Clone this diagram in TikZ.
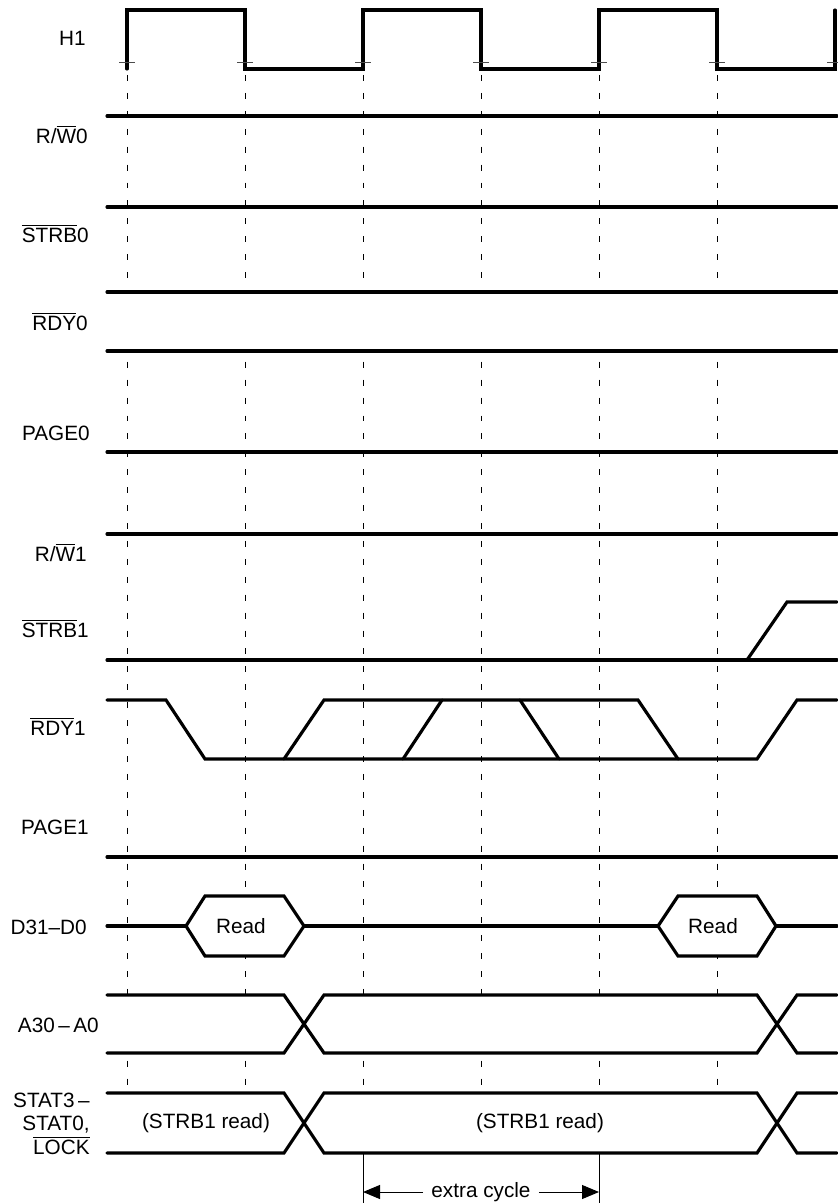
\documentclass[tikz,border=0pt]{standalone}
\usepackage{fontspec}
\setmainfont{Liberation Sans}
\usetikzlibrary{arrows.meta}
\newcommand{\ovl}[1]{$\overline{\mbox{#1}}$}

\begin{document}
\begin{tikzpicture}[x=0.02cm, y=-0.02cm,
      sig/.style={line width=1.8pt, line cap=round, line join=miter},
      grid/.style={line width=0.55pt, dash pattern=on 3.4pt off 6.8pt},
      tick/.style={line width=0.55pt, color=black!70},
      dim/.style={line width=0.55pt},
      lbl/.style={anchor=base east, inner sep=0pt, font=\fontsize{11.8}{14.2}\selectfont},
      txt/.style={inner sep=0pt, font=\fontsize{11.8}{14.2}\selectfont}
    ]
      \useasboundingbox (0,0) rectangle (838,1203);

      % clock edges
      \foreach \x in {127,245,363,481,599,717}
        \draw[grid] (\x,75) -- (\x,1093);
      \fill[white] (107,292) rectangle (837,351);

      % H1
      \draw[sig] (127,69) -- (127,10) -- (245,10) -- (245,69) -- (363,69) -- (363,10)
        -- (481,10) -- (481,69) -- (599,69) -- (599,10) -- (717,10) -- (717,69)
        -- (835,69) -- (835,10);
      \foreach \x in {127,245,...,835}
        \draw[tick] (\x-8,62) -- (\x+8,62);

      % steady signals
      \foreach \y in {116,207,292,351,452,534,660,857}
        \draw[sig] (107,\y) -- (837,\y);

      % STRB1
      \draw[sig] (747,660) -- (787,602) -- (837,602);

      % RDY1
      \draw[sig] (107,700) -- (166,700) -- (205,759) -- (757,759) -- (797,700) -- (837,700);
      \draw[sig] (284,759) -- (324,700) -- (638,700) -- (678,759);
      \draw[sig] (403,759) -- (442,700);
      \draw[sig] (520,700) -- (559,759);

      % D31-D0
      \draw[sig] (107,926) -- (837,926);
      \draw[sig, fill=white] (186,926) -- (205,896) -- (284,896) -- (304,926) -- (284,956) -- (205,956) -- cycle;
      \draw[sig, fill=white] (658,926) -- (678,896) -- (757,896) -- (776,926) -- (757,956) -- (678,956) -- cycle;
      \node[txt] (rd1) at (241,926) {Read};
      \node[txt] (rd2) at (713,926) {Read};

      % A30-A0 and STAT3-STAT0
      \foreach \t/\b in {995/1053,1093/1153} {
        \fill[white] (107,\t) rectangle (837,\b);
        \draw[sig] (107,\t) -- (284,\t) -- (324,\b) -- (757,\b) -- (797,\t) -- (837,\t);
        \draw[sig] (107,\b) -- (284,\b) -- (324,\t) -- (757,\t) -- (797,\b) -- (837,\b);
      }
      \node[txt] (st1) at (206,1123) {(STRB1 read)};
      \node[txt] (st2) at (540,1123) {(STRB1 read)};

      % labels
      \node[lbl] (h1)    at (86,46)     {H1};
      \node[lbl] (rw0)   at (88,143.5)  {R/\ovl{W}0};
      \node[lbl] (strb0) at (89,242.5)  {\ovl{STRB}0};
      \node[lbl] (rdy0)  at (88,330)    {\ovl{RDY}0};
      \node[lbl] (page0) at (90,440.5)  {PAGE0};
      \node[lbl] (rw1)   at (87,561.5)  {R/\ovl{W}1};
      \node[lbl] (strb1) at (89,637)    {\ovl{STRB}1};
      \node[lbl] (rdy1)  at (86,735)    {\ovl{RDY}1};
      \node[lbl] (page1) at (89,834)    {PAGE1};
      \node[lbl] (data)  at (87,934)    {D31–D0};
      \node[lbl] (addr)  at (99,1032)   {A30\,–\,A0};
      \node[lbl] (stat3) at (90,1107)   {STAT3\,–};
      \node[lbl] (stat0) at (90,1130.5) {STAT0,};
      \node[lbl] (lock)  at (90,1154)   {\ovl{LOCK}};

      % extra cycle
      \coordinate (c1) at (363,1153);
      \coordinate (c2) at (599,1153);
      \draw[dim] (c1) -- ++(0,50);
      \draw[dim] (c2) -- ++(0,50);
      \node[txt, inner sep=4.5pt] (xc) at (481,1192) {extra cycle};
      \draw[dim, -{Triangle[length=0.34cm, width=0.28cm]}] (xc.west) -- (xc.west -| c1);
      \draw[dim, -{Triangle[length=0.34cm, width=0.28cm]}] (xc.east) -- (xc.east -| c2);
    \end{tikzpicture}
\end{document}
